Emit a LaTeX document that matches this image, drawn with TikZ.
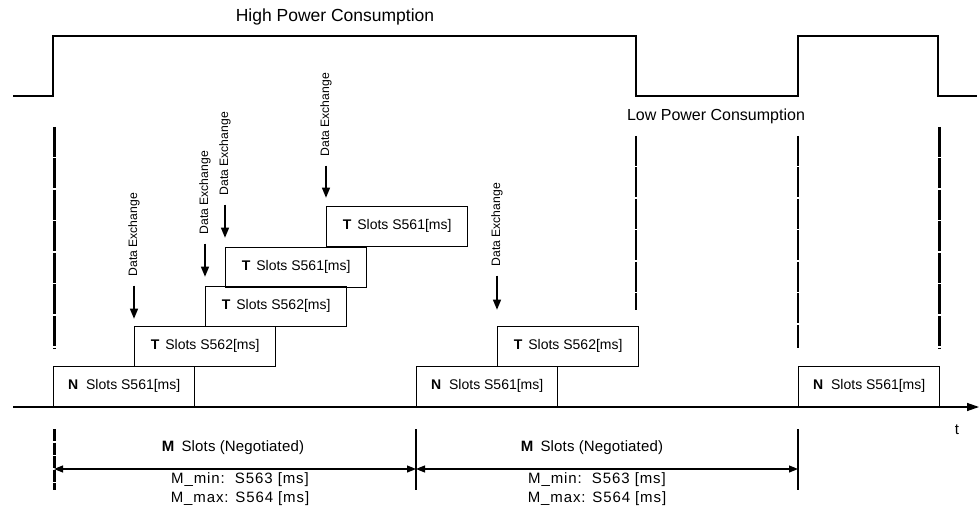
\documentclass[tikz,border=0pt]{standalone}
\usepackage{fontspec}
\setmainfont{Liberation Sans}
\usetikzlibrary{arrows.meta}
\begin{document}
\begin{tikzpicture}[x=1pt,y=-1pt,
  wave/.style={line width=1.3pt},
  slotbox/.style={draw, line width=1.3pt, minimum width=141pt, minimum height=40pt, inner sep=0pt, anchor=south west, font=\fontsize{14}{16}\selectfont},
  delabel/.style={rotate=90, anchor=west, inner sep=0pt, font=\fontsize{12.2}{14}\selectfont},
  dearrow/.style={-{Triangle[length=10pt,width=8pt]}, line width=1.3pt, shorten <=9pt},
  thickdash/.style={line width=3pt, dash pattern=on 30pt off 1.5pt},
  thindash/.style={line width=1.1pt, dash pattern=on 30pt off 1.5pt},
  dim/.style={{Triangle[length=9pt,width=7pt]}-{Triangle[length=9pt,width=7pt]}, line width=1.1pt},
  axisline/.style={-{Triangle[length=12pt,width=8pt]}, line width=1.3pt},
  lbl/.style={inner sep=0pt, font=\fontsize{16}{18}\selectfont},
  mlbl/.style={inner sep=0pt, align=center, font=\fontsize{15}{19}\selectfont\addfontfeatures{LetterSpace=6}},
  mhead/.style={inner sep=0pt, font=\fontsize{15}{19}\selectfont\addfontfeatures{LetterSpace=1}}]
\useasboundingbox[fill=white] (0,0) rectangle (979,510);

% power waveform
\draw[wave] (13,96) -- (53,96) -- (53,36) -- (636,36) -- (636,96) -- (798,96) -- (798,36) -- (938,36) -- (938,96) -- (977,96);
\node[lbl, font=\fontsize{17.5}{20}\selectfont] (hp) at (335,17) {High Power Consumption};
\node[lbl] (lp) at (716,116) {Low Power Consumption};

% vertical markers
\draw[thickdash] (54,127) -- (54,348);
\draw[thindash] (636,136) -- (636,310);
\draw[thindash] (798,136) -- (798,348);
\draw[thickdash] (939,127) -- (939,348);

% time axis
\coordinate (ax0) at (13,407);
\coordinate (ax1) at (979,407);
\draw[axisline] (ax0) -- (ax1);
\node[lbl, font=\fontsize{15}{18}\selectfont] (t) at (957,430) {t};

% slot boxes
\node[slotbox] (n1) at (53,407) {\textbf{N}\hspace{8pt}Slots S561[ms]};
\node[slotbox] (t1) at (134,367) {\textbf{T}\hspace{6pt}Slots S562[ms]};
\node[slotbox] (t2) at (205,327) {\textbf{T}\hspace{6pt}Slots S562[ms]};
\node[slotbox] (t3) at (225,288) {\textbf{T}\hspace{6pt}Slots S561[ms]};
\node[slotbox] (t4) at (326,247) {\textbf{T}\hspace{6pt}Slots S561[ms]};
\node[slotbox] (n2) at (416,407) {\textbf{N}\hspace{8pt}Slots S561[ms]};
\node[slotbox] (t5) at (497,367) {\textbf{T}\hspace{6pt}Slots S562[ms]};
\node[slotbox] (n3) at (798,407) {\textbf{N}\hspace{8pt}Slots S561[ms]};

% data exchange arrows
\node[delabel] (de1) at ([yshift=49pt]t1.north west) {Data Exchange};
\node[delabel] (de2) at ([yshift=51pt]t2.north west) {Data Exchange};
\node[delabel] (de3) at ([yshift=51pt]t3.north west) {Data Exchange};
\node[delabel] (de4) at ([yshift=49pt]t4.north west) {Data Exchange};
\node[delabel] (de5) at ([yshift=59pt]t5.north west) {Data Exchange};
\draw[dearrow] (de1.west) -- ([yshift=7pt]t1.north west);
\draw[dearrow] (de2.west) -- ([yshift=9pt]t2.north west);
\draw[dearrow] (de3.west) -- ([yshift=9pt]t3.north west);
\draw[dearrow] (de4.west) -- ([yshift=8pt]t4.north west);
\draw[dearrow] (de5.west) -- ([yshift=16pt]t5.north west);

% dimension lines
\coordinate (d1) at (54,469);
\coordinate (d2) at (416,469);
\coordinate (d3) at (798,469);
\draw[thickdash, dash pattern=on 12pt off 1.5pt] (54,429) -- (54,490);
\draw[line width=1.1pt] (416,429) -- (416,490);
\draw[line width=1.1pt] (798,429) -- (798,490);
\draw[dim] (d1) -- (d2);
\draw[dim] (d2) -- (d3);
\node[mhead] (m1) at (233,448) {\textbf{M}\hspace{7pt}Slots (Negotiated)};
\node[mlbl] (m1r) at (240,489) {M\_min:\ \ S563 [ms]\\M\_max: S564 [ms]};
\node[mhead] (m2) at (592,448) {\textbf{M}\hspace{7pt}Slots (Negotiated)};
\node[mlbl] (m2r) at (597,489) {M\_min:\ \ S563 [ms]\\M\_max: S564 [ms]};
\end{tikzpicture}
\end{document}
